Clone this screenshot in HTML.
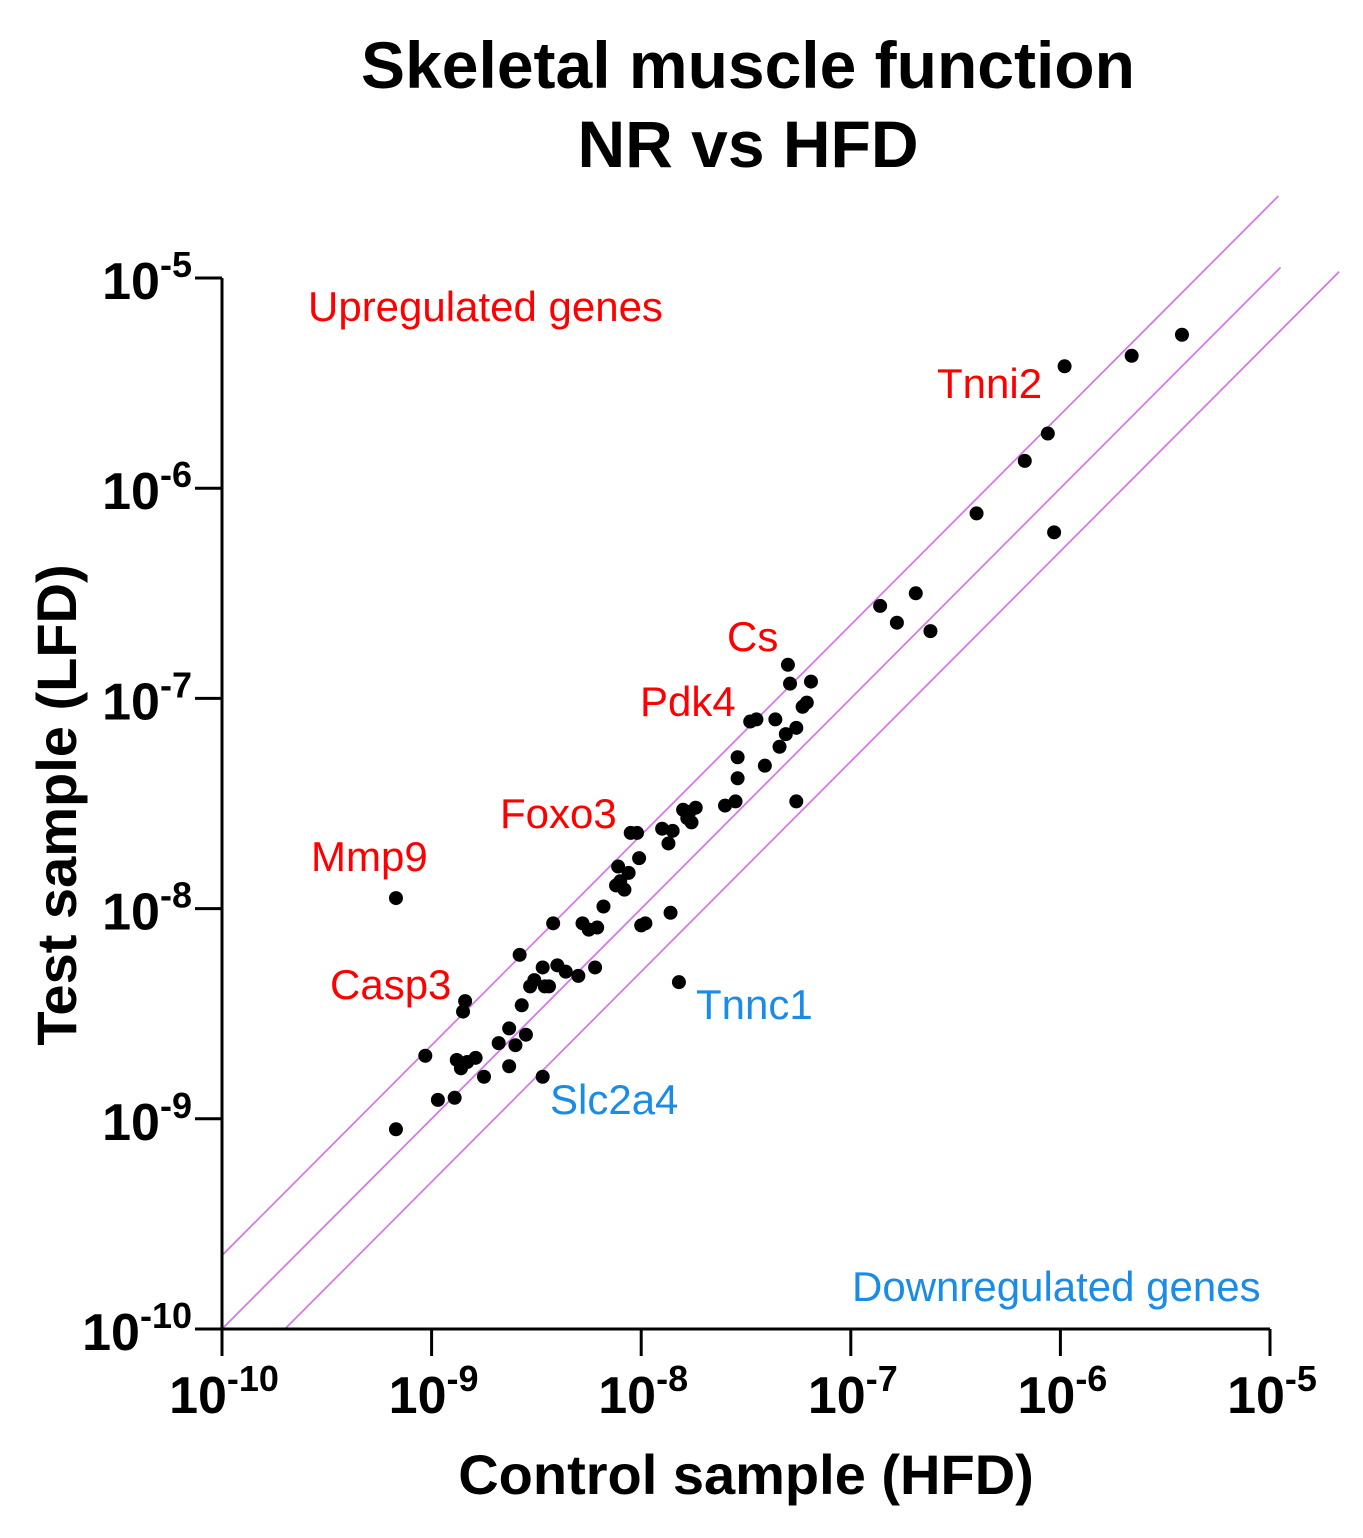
<!DOCTYPE html>
<html><head><meta charset="utf-8"><style>
html,body{margin:0;padding:0;background:#fff;}
svg{display:block;font-family:"Liberation Sans",Arial,sans-serif;}
</style></head><body>
<svg id="chart" width="1363" height="1538" viewBox="0 0 1363 1538" xmlns="http://www.w3.org/2000/svg">
<text x="748" y="88" text-anchor="middle" font-size="66" font-weight="bold">Skeletal muscle function</text>
<text x="748" y="167" text-anchor="middle" font-size="66" font-weight="bold">NR vs HFD</text>
<g id="lines"></g>
<g id="axes"></g>
<g id="points"></g>
<text transform="translate(76,805) rotate(-90)" text-anchor="middle" font-size="56" font-weight="bold">Test sample (LFD)</text>
<text x="746" y="1494" text-anchor="middle" font-size="56" font-weight="bold">Control sample (HFD)</text>
<g font-size="42">
<text x="308" y="321" fill="#ff0000">Upregulated genes</text>
<text x="852" y="1301" fill="#1a8ce8">Downregulated genes</text>
<text x="937" y="398" fill="#ff0000">Tnni2</text>
<text x="727" y="651" fill="#ff0000">Cs</text>
<text x="640" y="716" fill="#ff0000">Pdk4</text>
<text x="500" y="828" fill="#ff0000">Foxo3</text>
<text x="311" y="871" fill="#ff0000">Mmp9</text>
<text x="330" y="999" fill="#ff0000">Casp3</text>
<text x="696" y="1019" fill="#1a8ce8">Tnnc1</text>
<text x="550" y="1114" fill="#1a8ce8">Slc2a4</text>
</g>
</svg>
<script>
const logX = [-9.17,-9.17,-9.03,-8.97,-8.89,-8.88,-8.86,-8.84,-8.85,-8.83,-8.79,-8.75,-8.68,-8.63,-8.63,-8.60,-8.58,-8.57,-8.55,-8.53,-8.51,-8.47,-8.46,-8.44,-8.40,-8.36,-8.42,-8.30,-8.28,-8.25,-8.22,-8.21,-8.18,-8.12,-8.11,-8.10,-8.08,-8.06,-8.05,-8.02,-8.01,-8.00,-7.98,-7.90,-7.87,-7.85,-7.86,-7.80,-7.78,-7.77,-7.76,-7.74,-7.82,-8.47,-7.60,-7.55,-7.54,-7.54,-7.48,-7.45,-7.41,-7.36,-7.34,-7.31,-7.30,-7.29,-7.26,-7.23,-7.21,-7.19,-7.26,-6.86,-6.78,-6.69,-6.62,-6.40,-6.17,-6.06,-6.03,-5.98,-5.66,-5.42];
const logY = [-7.95,-9.05,-8.70,-8.91,-8.90,-8.72,-8.76,-8.44,-8.49,-8.73,-8.71,-8.80,-8.64,-8.57,-8.75,-8.65,-8.22,-8.46,-8.60,-8.37,-8.34,-8.28,-8.37,-8.37,-8.27,-8.30,-8.07,-8.32,-8.07,-8.10,-8.28,-8.09,-7.99,-7.89,-7.80,-7.87,-7.91,-7.83,-7.64,-7.64,-7.76,-8.08,-8.07,-7.62,-7.69,-7.63,-8.02,-7.53,-7.57,-7.54,-7.59,-7.52,-8.35,-8.80,-7.51,-7.49,-7.28,-7.38,-7.11,-7.10,-7.32,-7.10,-7.23,-7.17,-6.84,-6.93,-7.14,-7.04,-7.02,-6.92,-7.49,-6.56,-6.64,-6.50,-6.68,-6.12,-5.87,-5.74,-6.21,-5.42,-5.37,-5.27];
const tickExps = [-10,-9,-8,-7,-6,-5];
const foldOffsets = [0.35, 0, -0.30];
const foldEnds = [-4.96, -4.95, -4.67];

const NS = "http://www.w3.org/2000/svg";
const X0=222, X1=1270, Y0=1329, Y1=278, LMIN=-10, LMAX=-5;
function sx(l){return X0+(l-LMIN)/(LMAX-LMIN)*(X1-X0);}
function sy(l){return Y0-(l-LMIN)/(LMAX-LMIN)*(Y0-Y1);}
function mk(tag,attrs,parent){const e=document.createElementNS(NS,tag);for(const k in attrs)e.setAttribute(k,attrs[k]);parent.appendChild(e);return e;}

const lines=document.getElementById('lines');
foldOffsets.forEach((o,i)=>{
  let xa=Math.max(LMIN, LMIN-o), xb=foldEnds[i];
  const l=mk('line',{x1:sx(xa),y1:sy(xa+o),x2:sx(xb),y2:sy(xb+o),stroke:'#d67ae8','stroke-width':1.8},lines);
  
  
});

const axes=document.getElementById('axes');
const ya=mk('line',{x1:X0,y1:Y1,x2:X0,y2:Y0+1.5,stroke:'#000','stroke-width':3},axes);


const xa=mk('line',{x1:X0-1.5,y1:Y0,x2:X1,y2:Y0,stroke:'#000','stroke-width':3},axes);


tickExps.forEach(e=>{
  const tx=mk('line',{x1:sx(e),y1:Y0,x2:sx(e),y2:Y0+27,stroke:'#000','stroke-width':3},axes);
  
  
  const ty=mk('line',{x1:X0-27,y1:sy(e),x2:X0,y2:sy(e),stroke:'#000','stroke-width':3},axes);
  
  
  const lx=mk('text',{x:sx(e)+2,y:Y0+84,'text-anchor':'middle','font-size':52,'font-weight':'bold'},axes);
  
  
  lx.innerHTML='10<tspan font-size="36" dy="-22">'+e+'</tspan>';
  const ly=mk('text',{x:X0-30,y:sy(e)+21,'text-anchor':'end','font-size':52,'font-weight':'bold'},axes);
  
  
  ly.innerHTML='10<tspan font-size="36" dy="-22">'+e+'</tspan>';
});

const pts=document.getElementById('points');
logX.forEach((v,i)=>{
  const c=mk('circle',{cx:sx(v),cy:sy(logY[i]),r:7,fill:'#000'},pts);
  
  
});
</script>
</body></html>
